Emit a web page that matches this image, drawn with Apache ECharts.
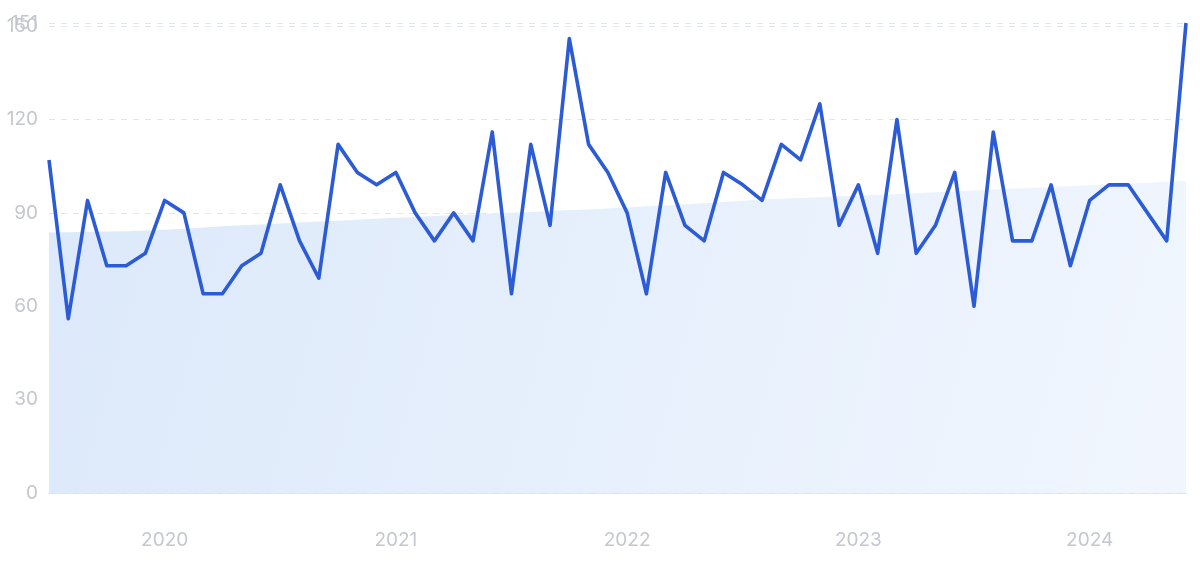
<!DOCTYPE html>
<html>
<head>
<meta charset="utf-8">
<style>
html,body{margin:0;padding:0;background:#fff;}
#chart{width:1200px;height:561px;}
</style>
<script src="https://cdn.jsdelivr.net/npm/echarts@6/dist/echarts.min.js"></script>
</head>
<body>
<div id="chart"></div>
<script>
const months = [];
(function(){
  let y = 2019, m = 7;
  for (let i = 0; i < 60; i++) {
    months.push(y + '-' + String(m).padStart(2, '0'));
    m++; if (m > 12) { m = 1; y++; }
  }
})();

const searchValues = [
  107, 56, 94, 73, 73, 77, 94, 90, 64, 64, 73, 77,
  99, 81, 69, 112, 103, 99, 103, 90, 81, 90, 81, 116,
  64, 112, 86, 146, 112, 103, 90, 64, 103, 86, 81, 103,
  99, 94, 112, 107, 125, 86, 99, 77, 120, 77, 86, 103,
  60, 116, 81, 81, 99, 73, 94, 99, 99, 90, 81, 151
];

const trendValues = [
  83.7, 83.8, 83.9, 84.0, 84.1, 84.3,
  84.6, 84.9, 85.3, 85.7,
  86.0, 86.3, 86.6, 86.9,
  87.2, 87.5, 87.8, 88.1, 88.4, 88.7,
  89.0, 89.3, 89.5, 89.8, 90.0, 90.3, 90.6, 90.9, 91.1,
  91.4, 91.7, 92.1, 92.4, 92.8, 93.1, 93.5, 93.9,
  94.3, 94.5, 94.8, 95.0, 95.3, 95.5, 95.8,
  96.0, 96.3, 96.6, 96.9, 97.2,
  97.5, 97.8, 98.0, 98.3, 98.6, 98.9, 99.2, 99.4, 99.7, 100.0, 100.3
];

const yTicks = { min: 0, max: 151, interval: 30 };
const yMaxLabel = 151;

const chart = echarts.init(document.getElementById('chart'), null, { renderer: 'canvas' });
const labelColor = '#c5c7d0';
const font = 'Inter, "Noto Sans", sans-serif';

const yLabelBase = { color: labelColor, fontSize: 19, fontFamily: font, margin: 11 };

chart.setOption({
  animation: false,
  grid: { left: 49, right: 14, top: 23, bottom: 68, containLabel: false },
  xAxis: {
    type: 'category',
    data: months,
    boundaryGap: false,
    axisLine: { show: true, lineStyle: { color: '#d3e2f5', width: 1.5 } },
    axisTick: { show: false },
    splitLine: { show: false },
    axisLabel: {
      color: labelColor,
      fontSize: 19,
      fontFamily: font,
      margin: 38,
      interval: function (idx, val) { return val.slice(5) === '01'; },
      formatter: function (val) { return val.slice(0, 4); }
    }
  },
  yAxis: [
    {
      type: 'value',
      min: yTicks.min,
      max: yTicks.max,
      interval: yTicks.interval,
      position: 'left',
      axisLine: { show: false },
      axisTick: { show: false },
      axisLabel: Object.assign({}, yLabelBase, { showMaxLabel: false }),
      splitLine: { show: true, lineStyle: { color: '#dfe6f1', type: [6, 6], width: 1 } }
    },
    {
      type: 'value',
      min: yTicks.min,
      max: yTicks.max,
      interval: yTicks.interval,
      position: 'left',
      offset: 0,
      axisLine: { show: false },
      axisTick: { show: false },
      splitLine: { show: false },
      axisLabel: Object.assign({}, yLabelBase, {
        showMaxLabel: true,
        showMinLabel: false,
        formatter: function (v) { return v === yMaxLabel ? String(v) : ''; }
      })
    }
  ],
  series: [
    {
      type: 'line',
      data: trendValues,
      symbol: 'none',
      silent: true,
      z: 1,
      lineStyle: { width: 0, opacity: 0 },
      areaStyle: {
        opacity: 1,
        color: new echarts.graphic.LinearGradient(0, 0, 1, 1, [
          { offset: 0, color: '#dce9fa' },
          { offset: 1, color: '#f1f6fe' }
        ])
      }
    },
    {
      type: 'line',
      data: searchValues,
      symbol: 'none',
      z: 3,
      lineStyle: { color: '#2c5bd6', width: 3.6, join: 'round' }
    }
  ]
});
</script>
</body>
</html>
